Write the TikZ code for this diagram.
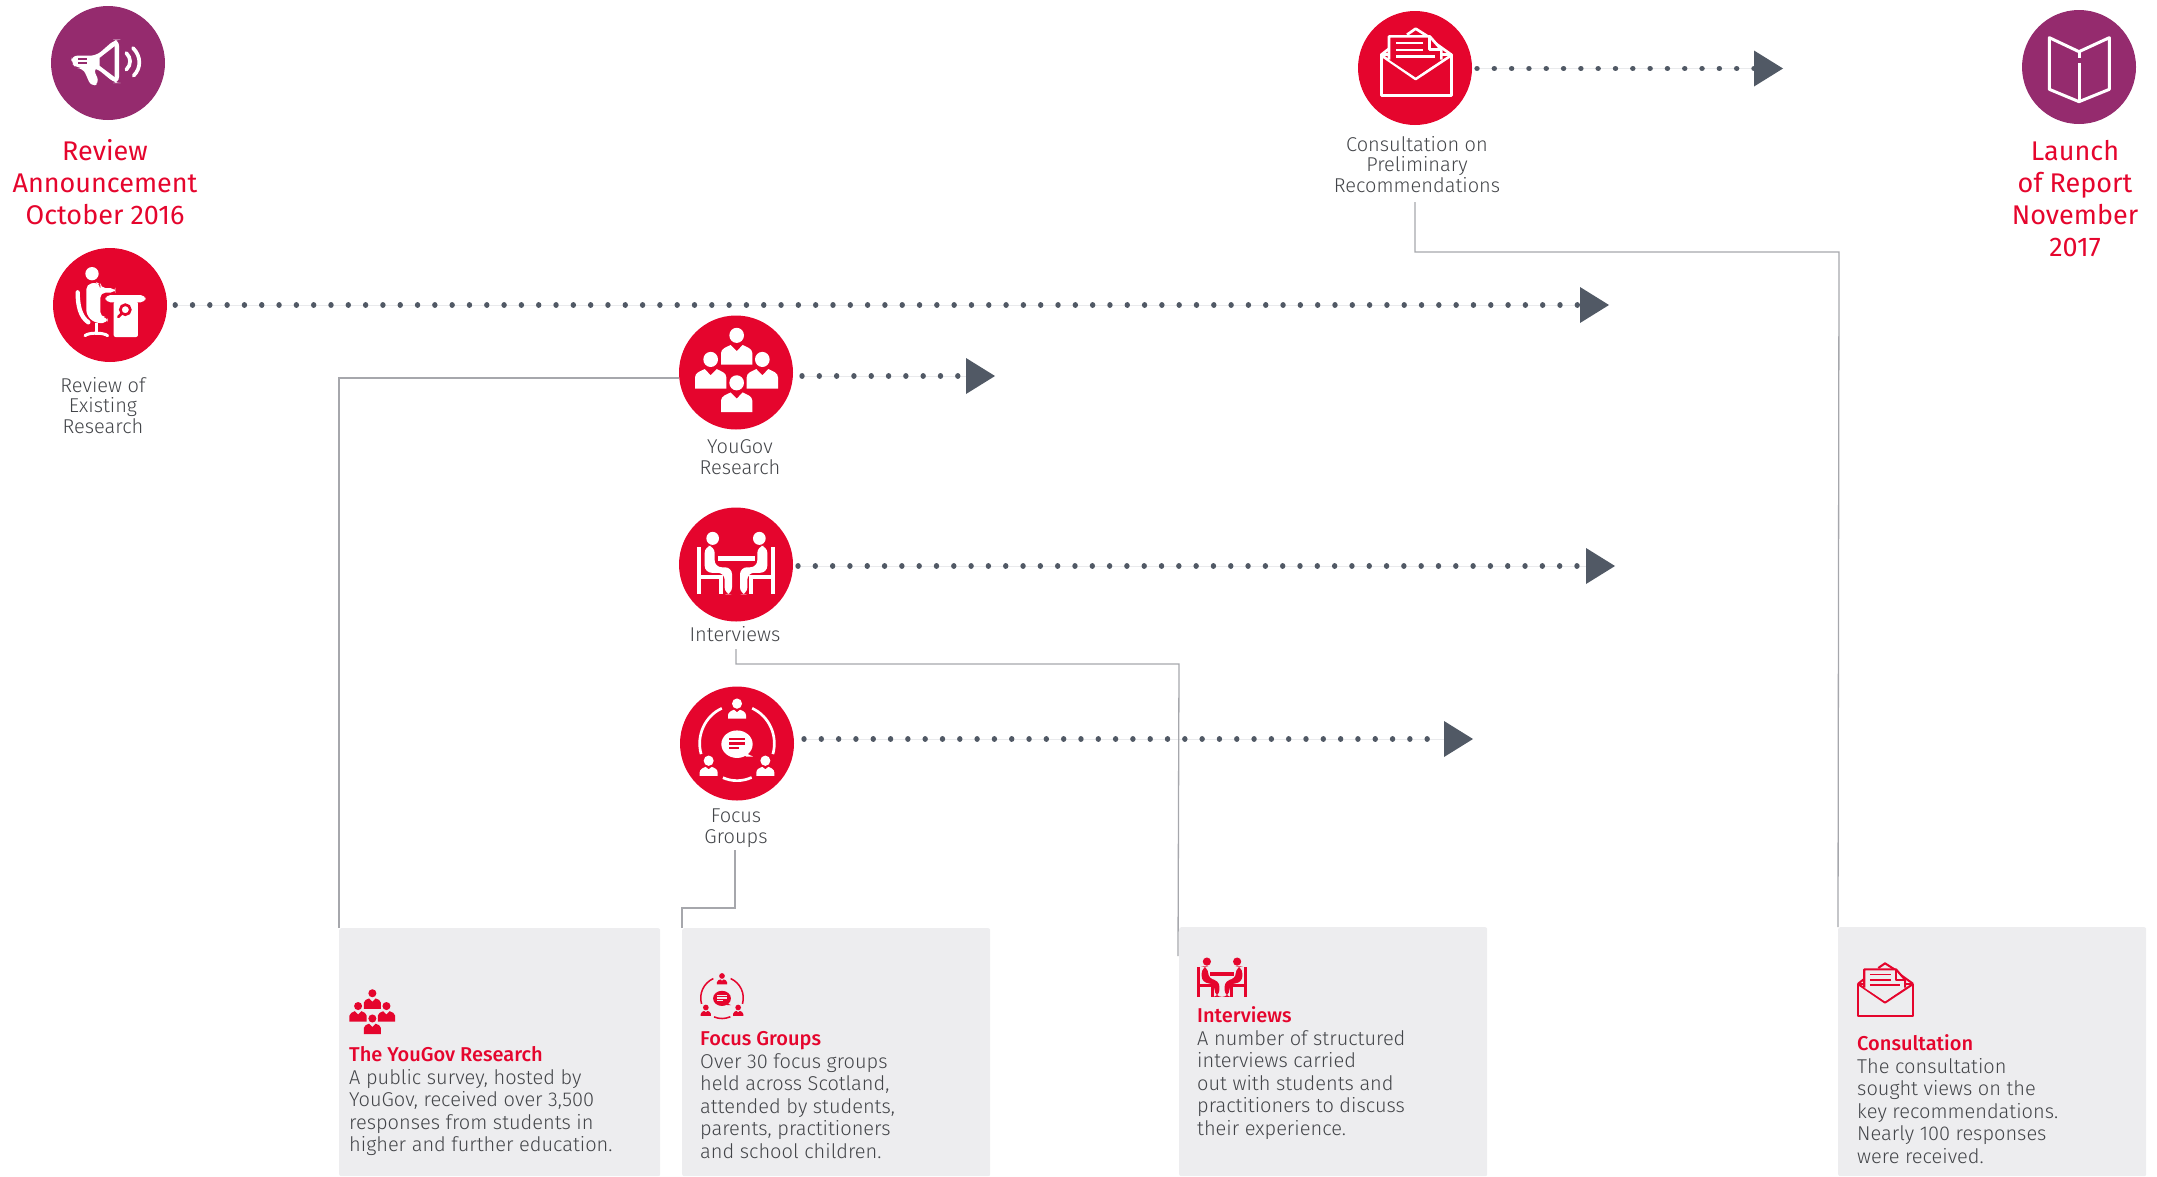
\documentclass[tikz,border=0pt]{standalone}
\usepackage{fontspec}
\setmainfont[BoldFont={Fira Sans Medium}]{Fira Sans Light}
\newfontfamily\titlefont{Fira Sans}
\usetikzlibrary{arrows.meta}
\definecolor{brandred}{HTML}{E5052D}
\definecolor{brandpurple}{HTML}{952B6E}
\definecolor{txtgrey}{HTML}{434549}
\definecolor{dotgrey}{HTML}{515965}
\definecolor{linegrey}{HTML}{A6A7AC}
\definecolor{boxgrey}{HTML}{EDEDEF}
\colorlet{ifg}{white}\colorlet{ibg}{brandred}
\def\isc{0.3333}
\newcommand{\pplfig}[2]{%
  \begin{scope}[shift={(#1,#2)}]
    \fill[ifg] (0,-28) circle (22);
    \fill[ifg] (-47,57) -- (-47,24) .. controls (-47,10) and (-30,6) .. (-18,0) -- (0,18) -- (18,0) .. controls (30,6) and (47,10) .. (47,24) -- (47,57) -- cycle;
  \end{scope}}
\newcommand{\focusfig}[2]{%
  \begin{scope}[shift={(#1,#2)}]
    \fill[ifg] (0,-30) circle (15);
    \fill[ifg] (-27,14) -- (-27,4) .. controls (-27,-6) and (-15,-10) .. (-9,-12) -- (0,-5) -- (9,-12) .. controls (15,-10) and (27,-6) .. (27,4) -- (27,14) -- cycle;
  \end{scope}}
\tikzset{
  x=1pt,y=-1pt,
  big/.style={scale=0.3333,/utils/exec={\colorlet{ifg}{white}\colorlet{ibg}{brandred}\def\isc{0.3333}}},
  bigz/.style={xscale=0.3333,yscale=0.344,/utils/exec={\colorlet{ifg}{white}\colorlet{ibg}{brandred}\def\isc{0.3333}}},
  bigp/.style={scale=0.3333,/utils/exec={\colorlet{ifg}{white}\colorlet{ibg}{brandpurple}\def\isc{0.3333}}},
  small/.style={scale=#1,/utils/exec={\colorlet{ifg}{brandred}\colorlet{ibg}{boxgrey}\def\isc{#1}}},
  redcirc/.style={circle,fill=brandred,minimum size=114pt,inner sep=0pt},
  purpcirc/.style={circle,fill=brandpurple,minimum size=114pt,inner sep=0pt},
  flow/.style={draw=dotgrey,fill=dotgrey,line width=5.4pt,line cap=round,dash pattern=on 0.01pt off 17.3pt,-{Triangle[length=29pt,width=36pt,round=false,line width=0pt]}},
  conn/.style={draw=linegrey,line width=1.3pt},
  infobox/.style={fill=boxgrey,rounded corners=2pt,inner sep=0pt,anchor=north west},
  headline/.style={anchor=base,align=center,text=brandred,font=\titlefont\fontsize{27}{32}\selectfont,inner sep=0pt},
  lab/.style={anchor=base,align=center,text=txtgrey,font=\fontsize{20}{20.5}\selectfont,inner sep=0pt},
  body/.style={anchor=base west,align=left,text=txtgrey,font=\fontsize{20}{22.5}\selectfont,inner sep=0pt},
  megaphone/.pic={
    \fill[ifg,rounded corners=6pt] (-110,-22) -- (-35,-22) -- (20,-70) -- (33,-70) -- (33,60) -- (20,60) -- (-35,15) -- (-45,15) -- (-25,60) -- (-50,72) -- (-75,15) -- (-95,15) -- (-110,0) -- cycle;
    \fill[ibg] (-25,-15) -- (20,-50) -- (20,42) -- (-25,8) -- cycle;
    \fill[ibg] (-90,-14) rectangle (-63,-10);
    \fill[ibg] (-90,-2) rectangle (-63,2);
    \draw[ifg,line width=\isc*11pt,line cap=round] (55,-30) .. controls (70,-15) and (70,5) .. (55,20);
    \draw[ifg,line width=\isc*11pt,line cap=round] (75,-45) .. controls (100,-20) and (100,15) .. (77,38);
  },
  deskicon/.pic={
    \fill[ifg] (-54,-94) circle (20);
    \fill[ifg,rounded corners=5pt] (-71,-62) -- (-40,-68) -- (-29,-62) -- (-29,-51) -- (16,-51) -- (16,-37) -- (-29,-37) -- (-29,36) -- (-7,36) -- (-7,54) -- (-46,54) -- (-71,30) -- cycle;
    \draw[ifg,line width=\isc*13pt,line cap=round] (-97,-38) .. controls (-97,0) and (-90,35) .. (-65,52);
    \draw[ifg,line width=\isc*11pt] (-41,54) -- (-41,90);
    \draw[ifg,line width=\isc*9pt,line cap=round] (-75,92) .. controls (-65,82) and (-20,82) .. (-7,92);
    \fill[ifg,rounded corners=5pt] (-14,-30) rectangle (107,-8);
    \fill[ifg,rounded corners=2pt] (11,-10) rectangle (84,96);
    \draw[ibg,line width=\isc*8pt] (46,14) circle (15);
    \draw[ibg,line width=\isc*8pt,line cap=round] (35,26) -- (25,36);
  },
  peopleicon/.pic={
    \pplfig{2}{-80}
    \pplfig{-76}{-10}
    \pplfig{79}{-10}
    \fill[ibg] (2,30) circle (26);
    \pplfig{2}{58}
  },
  interviewicon/.pic={
    \fill[ifg] (-55,-26) rectangle (56,-10);
    \foreach \sgn in {-1,1}{
      \begin{scope}[xscale=\sgn]
        \fill[ifg] (-70,-76) circle (19);
        \fill[ifg] (-116,-51) rectangle (-104,87);
        \fill[ifg] (-104,30) rectangle (-39,42);
        \fill[ifg] (-51,42) rectangle (-39,87);
        \fill[ifg,rounded corners=7pt] (-94,-54) -- (-64,-54) -- (-64,8) -- (-12,8) -- (-12,87) -- (-34,87) -- (-34,24) -- (-94,24) -- cycle;
      \end{scope}}
  },
  focusicon/.pic={
    \focusfig{0}{-86}
    \focusfig{-85}{80}
    \focusfig{85}{80}
    \draw[ifg,line width=\isc*8pt] (246:112) arc[start angle=246,end angle=164,radius=112];
    \draw[ifg,line width=\isc*8pt] (294:112) arc[start angle=294,end angle=376,radius=112];
    \draw[ifg,line width=\isc*8pt] (113:108) arc[start angle=113,end angle=66,radius=108];
    \fill[ifg] (0,2) ellipse [x radius=47,y radius=40];
    \fill[ifg] (20,25) -- (48,38) -- (28,38) -- (15,30) -- cycle;
    \fill[ibg] (-24,-16) rectangle (24,-10);
    \fill[ibg] (-24,-3) rectangle (24,3);
    \fill[ibg] (-24,9) rectangle (6,15);
  },
  envelopeicon/.pic={
    \draw[ifg,line width=\isc*8pt,line join=round] (-101,-40) rectangle (109,83);
    \draw[ifg,line width=\isc*8pt,line join=round] (-101,-38) -- (2,33) -- (109,-38);
    \draw[ifg,line width=\isc*8pt,line join=round] (-101,-40) -- (-78,-58);
    \draw[ifg,line width=\isc*8pt,line join=round] (-24,-100) -- (2,-118) -- (46,-90);
    \draw[ifg,line width=\isc*8pt,line join=round] (50,-82) -- (109,-40);
    \path[fill=ibg] (-78,-95) -- (44,-95) -- (79,-55) -- (79,-25) -- (2,28) -- (-78,-25) -- cycle;
    \draw[ifg,line width=\isc*8pt,line join=round] (-78,-25) -- (-78,-95) -- (44,-95) -- (79,-55) -- (79,-25);
    \draw[ifg,line width=\isc*8pt,line join=round] (44,-95) -- (44,-55) -- (79,-55);
    \draw[ifg,line width=\isc*7pt] (-56,-75) -- (24,-75);
    \draw[ifg,line width=\isc*7pt] (-56,-55) -- (24,-55);
    \draw[ifg,line width=\isc*7pt] (-56,-35) -- (59,-35);
  },
  bookicon/.pic={
    \draw[ifg,line width=\isc*9pt,line join=round] (-89,-88) -- (0,-46) -- (91,-88) -- (91,67) -- (0,104) -- (-89,67) -- cycle;
    \draw[ifg,line width=\isc*9pt] (2,-11) -- (2,100);
    \draw[ifg,line width=\isc*9pt] (0,-46) -- (0,-26);
  }
}
\begin{document}
\begin{tikzpicture}
\useasboundingbox (0,0) rectangle (2157,1176);
% info boxes
\node[infobox,minimum width=321pt,minimum height=248pt] (byougov) at (339,928) {};
\node[infobox,minimum width=308pt,minimum height=248pt] (bfocus) at (682,928) {};
\node[infobox,minimum width=308pt,minimum height=249pt] (binterv) at (1179,927) {};
\node[infobox,minimum width=308pt,minimum height=249pt] (bconsult) at (1838,927) {};
% circles
\node[purpcirc] (cannounce) at (108,63) {};
\node[purpcirc] (claunch) at (2079,67) {};
\node[redcirc] (cresearch) at (110,305) {};
\node[redcirc] (cyougov) at (736,372.5) {};
\node[redcirc] (cinterv) at (736,564.5) {};
\node[redcirc] (cfocus) at (737,743.5) {};
\node[redcirc] (cconsult) at (1415,68) {};
% icons
\pic[bigp] at (cannounce) {megaphone};
\pic[bigp] at (claunch) {bookicon};
\pic[big] at (cresearch) {deskicon};
\pic[bigz] at (cyougov) {peopleicon};
\pic[bigz] at (cinterv) {interviewicon};
\pic[bigz] at (cfocus) {focusicon};
\pic[big] at (cconsult) {envelopeicon};
\pic[small=0.183] at (372,1013) {peopleicon};
\pic[small=0.19] at (722,998) {focusicon};
\pic[small=0.216] at (1222,978) {interviewicon};
\pic[small=0.26] at (1884.5,994) {envelopeicon};
% titles
\node[headline] (tannounce) at (105,224) {Review\\Announcement\\October 2016};
\node[headline] (tlaunch) at (2075,256) {Launch\\of Report\\November\\2017};
% labels
\node[lab] (lresearch) at (103,433) {Review of\\Existing\\Research};
\node[lab] (lyougov) at (740,474) {YouGov\\Research};
\node[lab] (linterv) at (735,641) {Interviews};
\node[lab] (lfocus) at (736,843) {Focus\\Groups};
\node[lab] (lconsult) at (1417,192) {Consultation on\\Preliminary\\Recommendations};
% body texts
\node[body] (tyougov) at (349,1151.5) {\textcolor{brandred}{\bfseries The YouGov Research}\\A public survey, hosted by\\YouGov, received over 3,500\\responses from students in\\higher and further education.};
\node[body] (tfocus) at (700,1158) {\textcolor{brandred}{\bfseries Focus Groups}\\Over 30 focus groups\\held across Scotland,\\attended by students,\\parents, practitioners\\and school children.};
\node[body] (tinterv) at (1197,1135) {\textcolor{brandred}{\bfseries Interviews}\\A number of structured\\interviews carried\\out with students and\\practitioners to discuss\\their experience.};
\node[body] (tconsult) at (1857,1163) {\textcolor{brandred}{\bfseries Consultation}\\The consultation\\sought views on the\\key recommendations.\\Nearly 100 responses\\were received.};
% flow ends
\coordinate (eresearch) at (1609,305);
\coordinate (eyougov) at (995,376);
\coordinate (einterv) at (1615,566);
\coordinate (efocus) at (1473,739);
\coordinate (econsult) at (1783,68.5);
\draw[flow] ([xshift=8pt]cresearch.east) -- (eresearch);
\draw[flow] (802,376) -- (eyougov);
\draw[flow] (798,566) -- (einterv);
\draw[flow] (804,739) -- (efocus);
\draw[flow] (1477,68.5) -- (econsult);
% connectors
\coordinate (j1) at (1415,252);
\coordinate (j2) at (339,378);
\coordinate (j3) at (736,664);
\coordinate (j4) at (735,908);
\coordinate (j5) at (682,908);
\coordinate (j6) at (1179,664);
\coordinate (j7) at (1839,252);
\draw[conn] (1415,202) -- (j1) -- (j7) -- (bconsult.north west);
\draw[conn] (cyougov.west |- j2) -- (j2) -- (byougov.north west);
\draw[conn] (736,649) -- (j3) -- (j6) -- (1178,956);
\draw[conn] (735,850) -- (j4) -- (j5) -- (bfocus.north west);
\end{tikzpicture}
\end{document}
